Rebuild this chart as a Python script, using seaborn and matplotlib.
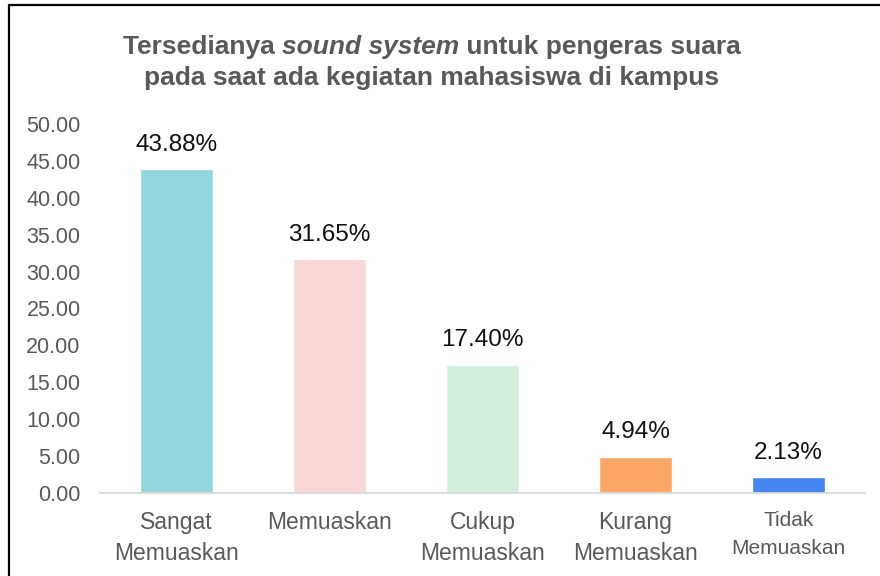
import matplotlib
matplotlib.use("Agg")
import matplotlib.pyplot as plt
import seaborn as sns
import pandas as pd
from matplotlib.lines import Line2D

categories = ["Sangat\nMemuaskan", "Memuaskan", "Cukup\nMemuaskan", "Kurang\nMemuaskan", "Tidak\nMemuaskan"]
values = [43.88, 31.65, 17.40, 4.94, 2.13]
value_labels = ["43.88%", "31.65%", "17.40%", "4.94%", "2.13%"]
colors = ["#92D7DE", "#F9D7D6", "#D4EEDD", "#FDA767", "#4586F2"]
yticks = [0, 5, 10, 15, 20, 25, 30, 35, 40, 45, 50]

sns.set_theme(style="white")
plt.rcParams['font.family'] = ['Liberation Sans', 'DejaVu Sans']

df = pd.DataFrame({"cat": categories, "val": values})

fig = plt.figure(figsize=(8.8, 5.76), dpi=100)
ax = fig.add_axes([100/880, 1-493/576, 765/880, 369/576])
sns.barplot(data=df, x="cat", y="val", hue="cat", palette=colors, legend=False,
            width=0.48, ax=ax, saturation=1)

ax.set_ylim(0, 50)
ax.set_xlim(-0.5, 4.5)
ax.set_yticks(yticks)
ax.set_yticklabels([f"{v:.2f}" for v in yticks], color="#595959", fontsize=15.5)
ax.set_xlabel("")
ax.set_ylabel("")
ax.set_xticks(range(len(categories)))
ax.set_xticklabels(categories, color="#595959", fontsize=16.5, linespacing=1.45)
last = ax.get_xticklabels()[4]
last.set_fontsize(15)
last.set_linespacing(1.6)
ax.tick_params(axis="y", length=0, pad=14)
ax.tick_params(axis="x", length=0, pad=13)
for s in ["top", "right", "left"]:
    ax.spines[s].set_visible(False)
ax.spines["bottom"].set_color("#D9D9D9")
ax.spines["bottom"].set_linewidth(1.3)

for i, (v, lab) in enumerate(zip(values, value_labels)):
    ax.text(i, v + 1.8, lab, ha="center", va="bottom", fontsize=17.5, color="#111111")

# Title with italic part
fig.canvas.draw()
renderer = fig.canvas.get_renderer()
tsize = 19
tcolor = "#595959"
parts = [("Tersedianya ", "normal"), ("sound system", "italic"), (" untuk pengeras suara", "normal")]
texts = []
widths = []
for s, st in parts:
    t = fig.text(0, 0, s, fontsize=tsize, fontweight="bold", style=st, color=tcolor,
                 va="baseline", ha="left")
    bb = t.get_window_extent(renderer)
    texts.append(t)
    widths.append(bb.width)
total = sum(widths)
cx = 432
x0 = cx - total / 2
y1 = 576 - 54
for t, w in zip(texts, widths):
    t.set_position((x0 / 880, y1 / 576))
    x0 += w
fig.text(cx / 880, (576 - 85) / 576, "pada saat ada kegiatan mahasiswa di kampus",
         fontsize=tsize, fontweight="bold", color=tcolor, ha="center", va="baseline")

# Frame lines
fig.add_artist(Line2D([8.5/880, 8.5/880], [0, 1 - 4.5/576], transform=fig.transFigure,
                      color="black", linewidth=1.6))
fig.add_artist(Line2D([8.5/880, 1], [1 - 4.5/576, 1 - 4.5/576], transform=fig.transFigure,
                      color="black", linewidth=1.6))

fig.savefig("out.png", dpi=100)
